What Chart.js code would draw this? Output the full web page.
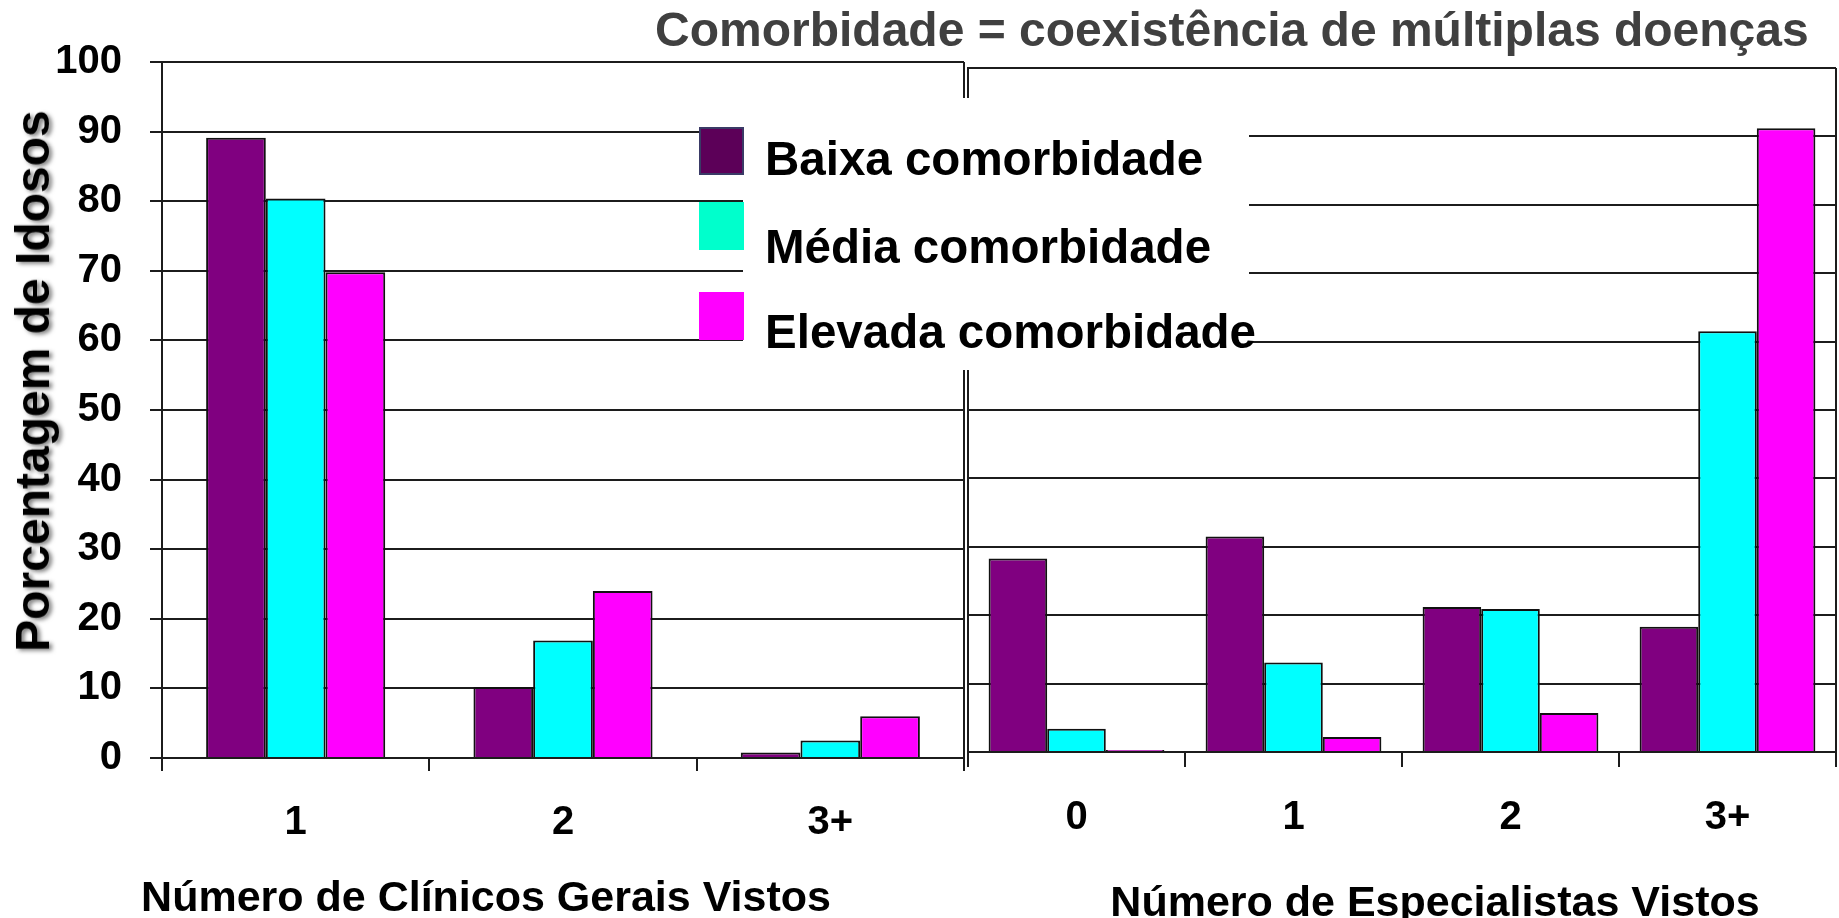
<!DOCTYPE html>
<html lang="pt-BR">
<head>
<meta charset="utf-8">
<title>Comorbidade</title>
<script src="https://cdn.jsdelivr.net/npm/chart.js@4"></script>
<style>
  html, body { margin:0; padding:0; background:#fff; }
  #wrap { position:relative; width:1839px; height:918px; overflow:hidden; font-family:"Liberation Sans", Arial, sans-serif; font-weight:700; }
  canvas { position:absolute; top:0; }
  #cv-clin { left:0; }
  #cv-esp  { left:900px; }
  .txt { position:absolute; white-space:nowrap; line-height:1; }
  #titulo { left:655px; top:6px; font-size:48px; color:#404040; }
  #ytit { left:33px; top:381px; font-size:48px; color:#000;
          transform:translate(-50%,-50%) rotate(-90deg);
          text-shadow:-2px 3px 4px rgba(0,0,0,.5); }
  #xtit-clin { left:486px; top:875px; font-size:43px; transform:translateX(-50%); }
  #xtit-esp  { left:1435px; top:880px; font-size:43px; transform:translateX(-50%); }
  #legenda-bg { position:absolute; left:743px; top:98px; width:506px; height:272px; background:#fff; }
  .sw { position:absolute; left:699px; width:45px; height:48px; box-sizing:border-box; }
  .lg { position:absolute; left:765px; font-size:47.5px; color:#000; white-space:nowrap; line-height:1; }
</style>
</head>
<body>
<div id="wrap">
  <canvas id="cv-clin" width="970" height="918"></canvas>
  <canvas id="cv-esp" width="939" height="918"></canvas>

  <div id="titulo" class="txt">Comorbidade = coexistência de múltiplas doenças</div>
  <div id="ytit" class="txt">Porcentagem de Idosos</div>
  <div id="xtit-clin" class="txt">Número de Clínicos Gerais Vistos</div>
  <div id="xtit-esp" class="txt">Número de Especialistas Vistos</div>

  <div id="legenda-bg"></div>
  <div id="legenda"></div>
</div>

<script>
/* ==========================================================
   Comorbidade — clínicos gerais x especialistas vistos
   ========================================================== */

// séries (% de idosos)
const series = ['Baixa comorbidade', 'Média comorbidade', 'Elevada comorbidade'];

const clinicosLabels = ['1', '2', '3+'];
const baixaClinicos   = [89.1, 10.2, 0.8];
const mediaClinicos   = [80.4, 16.9, 2.5];
const elevadaClinicos = [69.8, 24.0, 6.0];

const especLabels = ['0', '1', '2', '3+'];
const baixaEspec   = [28.3, 31.5, 21.2, 18.3];
const mediaEspec   = [3.4, 13.1, 20.9, 61.5];
const elevadaEspec = [0.3, 2.2, 5.7, 91.2];

// cores
const barColors    = ['#800080', '#00ffff', '#ff00ff'];
const swatchColors = ['#5c0058', '#00ffcc', '#ff00ff'];
const LINE = '#1c1c1c';

/* ============== Defaults ============== */
Chart.defaults.font.family = '"Liberation Sans", Arial, sans-serif';
Chart.defaults.font.weight = 'bold';
Chart.defaults.font.size = 40;
Chart.defaults.color = '#000';

// borda direita da área do gráfico
const frame = {
  id: 'frame',
  afterDraw(chart){
    const { ctx, chartArea: a } = chart;
    ctx.save();
    ctx.strokeStyle = LINE;
    ctx.lineWidth = 2;
    ctx.beginPath();
    ctx.moveTo(a.right, a.top);
    ctx.lineTo(a.right, a.bottom);
    ctx.stroke();
    ctx.restore();
  }
};

function datasets(values, catPct){
  return values.map((data, i) => ({
    label: series[i],
    data,
    backgroundColor: barColors[i],
    borderColor: '#111',
    borderWidth: 2,
    borderSkipped: 'bottom',
    categoryPercentage: catPct,
    barPercentage: 1
  }));
}

function options({ pad, yWidth, xHeight, tickLen, xPad, yLabels }){
  return {
    responsive: false,
    animation: false,
    layout: { padding: pad },
    plugins: { legend: { display: false }, tooltip: { enabled: false } },
    scales: {
      x: {
        grid: { offset: true, drawOnChartArea: false, drawTicks: true, tickLength: tickLen, color: LINE, lineWidth: 2 },
        border: { display: true, color: LINE, width: 2 },
        ticks: { padding: xPad, maxRotation: 0 },
        afterFit: s => { s.height = xHeight; }
      },
      y: {
        min: 0, max: 100,
        ticks: { stepSize: 10, display: yLabels, padding: 28 },
        grid: { color: LINE, lineWidth: 2, drawTicks: yLabels, tickLength: 12 },
        border: { display: true, color: LINE, width: 2 },
        afterFit: s => { s.width = yWidth; }
      }
    }
  };
}

/* ============== Gráficos ============== */
new Chart(document.getElementById('cv-clin'), {
  type: 'bar',
  data: { labels: clinicosLabels, datasets: datasets([baixaClinicos, mediaClinicos, elevadaClinicos], 0.67) },
  options: options({ pad: { left: 0, top: 62, right: 6, bottom: 0 }, yWidth: 162, xHeight: 160, tickLen: 13, xPad: 28, yLabels: true }),
  plugins: [frame]
});

new Chart(document.getElementById('cv-esp'), {
  type: 'bar',
  data: { labels: especLabels, datasets: datasets([baixaEspec, mediaEspec, elevadaEspec], 0.81) },
  options: options({ pad: { left: 0, top: 68, right: 3, bottom: 0 }, yWidth: 68, xHeight: 166, tickLen: 15, xPad: 27, yLabels: false }),
  plugins: [frame]
});

/* ============== Legenda ============== */
const legTops  = [127, 202, 292];
const legBases = [175, 263, 348];
const leg = document.getElementById('legenda');
series.forEach((name, i) => {
  const sw = document.createElement('div');
  sw.className = 'sw';
  sw.style.top = legTops[i] + 'px';
  sw.style.background = swatchColors[i];
  if(i === 0) sw.style.border = '2px solid #3a3a66';
  leg.appendChild(sw);

  const t = document.createElement('div');
  t.className = 'lg';
  t.textContent = name;
  t.style.top = (legBases[i] - 0.8465 * 47.5) + 'px';
  leg.appendChild(t);
});
</script>
</body>
</html>
